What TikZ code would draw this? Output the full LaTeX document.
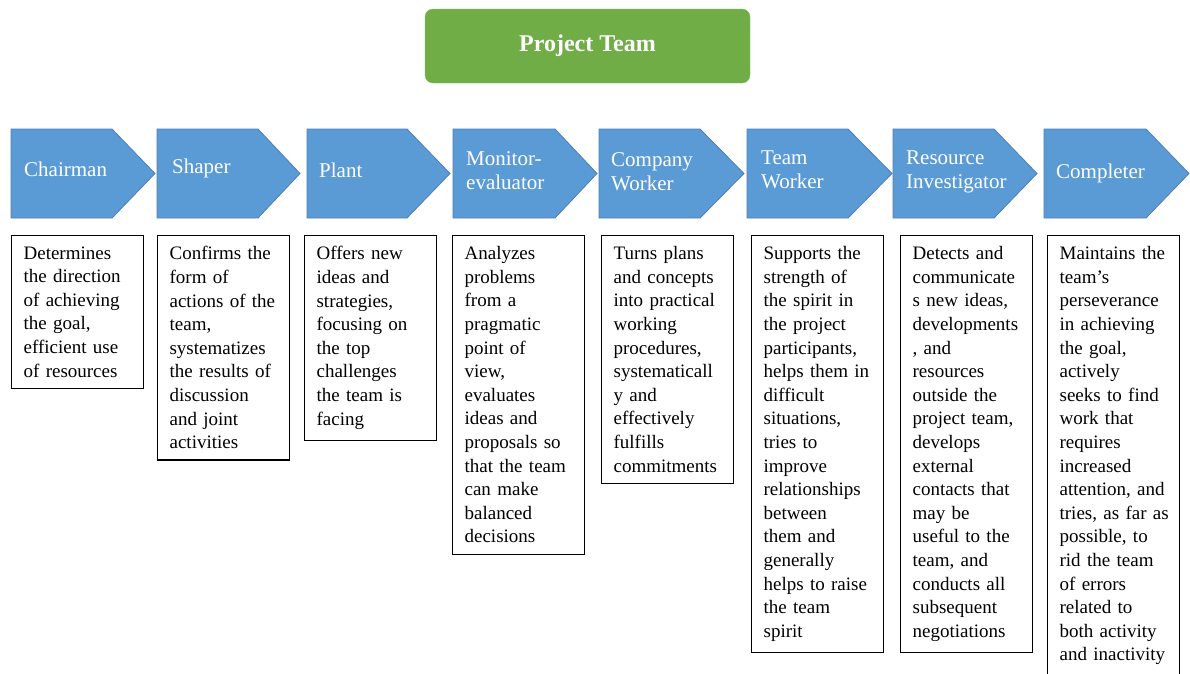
\documentclass[tikz,border=0pt]{standalone}
\usepackage{fontspec}
\setmainfont{Liberation Serif}
\usepackage{tikz}

\definecolor{roleblue}{HTML}{5B9BD5}
\definecolor{roleedge}{HTML}{4A80B8}
\definecolor{teamgreen}{HTML}{70AD47}

\begin{document}
\begin{tikzpicture}[x=1pt,y=-1pt,
  chev/.style={fill=roleblue,draw=roleedge,line width=0.8pt},
  role/.style={anchor=base west,align=left,text=white,inner sep=0pt,
    font=\fontsize{21pt}{24pt}\selectfont},
  duty/.style={draw=black,line width=1.2pt,anchor=north west,align=left,
    text width=108pt,inner xsep=12pt,inner ysep=11pt,
    font=\fontsize{19pt}{23.6pt}\selectfont}]

\useasboundingbox[fill=white](0,0) rectangle (1190,673);

\node[fill=teamgreen,draw=teamgreen!85!white,rounded corners=8pt,
  minimum width=325pt,minimum height=74pt,text=white,
  font=\fontsize{24pt}{28pt}\selectfont\bfseries] (team) at (587.5,46) {Project Team};

\filldraw[chev](11,129)--(112,129)--(155,173.5)--(112,218)--(11,218)--cycle;
\filldraw[chev](157,129)--(258,129)--(300,173.5)--(258,218)--(157,218)--cycle;
\filldraw[chev](307,129)--(407,129)--(450,173.5)--(407,218)--(307,218)--cycle;
\filldraw[chev](453,129)--(555,129)--(597,173.5)--(555,218)--(453,218)--cycle;
\filldraw[chev](599,129)--(700,129)--(744,173.5)--(700,218)--(599,218)--cycle;
\filldraw[chev](747,129)--(848,129)--(892,173.5)--(848,218)--(747,218)--cycle;
\filldraw[chev](893,129)--(994,129)--(1037,173.5)--(994,218)--(893,218)--cycle;
\filldraw[chev](1044,129)--(1146,129)--(1189,173.5)--(1146,218)--(1044,218)--cycle;

% two-line labels sit on the baseline of their last line
\node[role] (chairman) at (24,176) {Chairman};
\node[role] (shaper) at (172,173) {Shaper};
\node[role] (plant) at (319,177) {Plant};
\node[role] (monitor) at (466,189) {Monitor-\\evaluator};
\node[role] (company) at (611,190) {Company\\Worker};
\node[role] (teamworker) at (761,188) {Team\\Worker};
\node[role] (resource) at (906,188) {Resource\\Investigator};
\node[role] (completer) at (1056,178) {Completer};

\node[duty] (chairmanduty) at (11,235) {Determines\\the direction\\of achieving\\the goal,\\efficient use\\of resources};
\node[duty] (shaperduty) at (157,235) {Confirms the\\form of\\actions of the\\team,\\systematizes\\the results of\\discussion\\and joint\\activities};
\node[duty] (plantduty) at (304,235) {Offers new\\ideas and\\strategies,\\focusing on\\the top\\challenges\\the team is\\facing};
\node[duty] (monitorduty) at (452,235) {Analyzes\\problems\\from a\\pragmatic\\point of\\view,\\evaluates\\ideas and\\proposals so\\that the team\\can make\\balanced\\decisions};
\node[duty] (companyduty) at (601,235) {Turns plans\\and concepts\\into practical\\working\\procedures,\\systematicall\\y and\\effectively\\fulfills\\commitments};
\node[duty] (teamworkerduty) at (751,235) {Supports the\\strength of\\the spirit in\\the project\\participants,\\helps them in\\difficult\\situations,\\tries to\\improve\\relationships\\between\\them and\\generally\\helps to raise\\the team\\spirit};
\node[duty] (resourceduty) at (900,235) {Detects and\\communicate\\s new ideas,\\developments\\, and\\resources\\outside the\\project team,\\develops\\external\\contacts that\\may be\\useful to the\\team, and\\conducts all\\subsequent\\negotiations};
\node[duty] (completerduty) at (1047,235) {Maintains the\\team's\\perseverance\\in achieving\\the goal,\\actively\\seeks to find\\work that\\requires\\increased\\attention, and\\\mbox{tries, as far as}\\possible, to\\rid the team\\of errors\\related to\\both activity\\and inactivity};

\end{tikzpicture}
\end{document}
